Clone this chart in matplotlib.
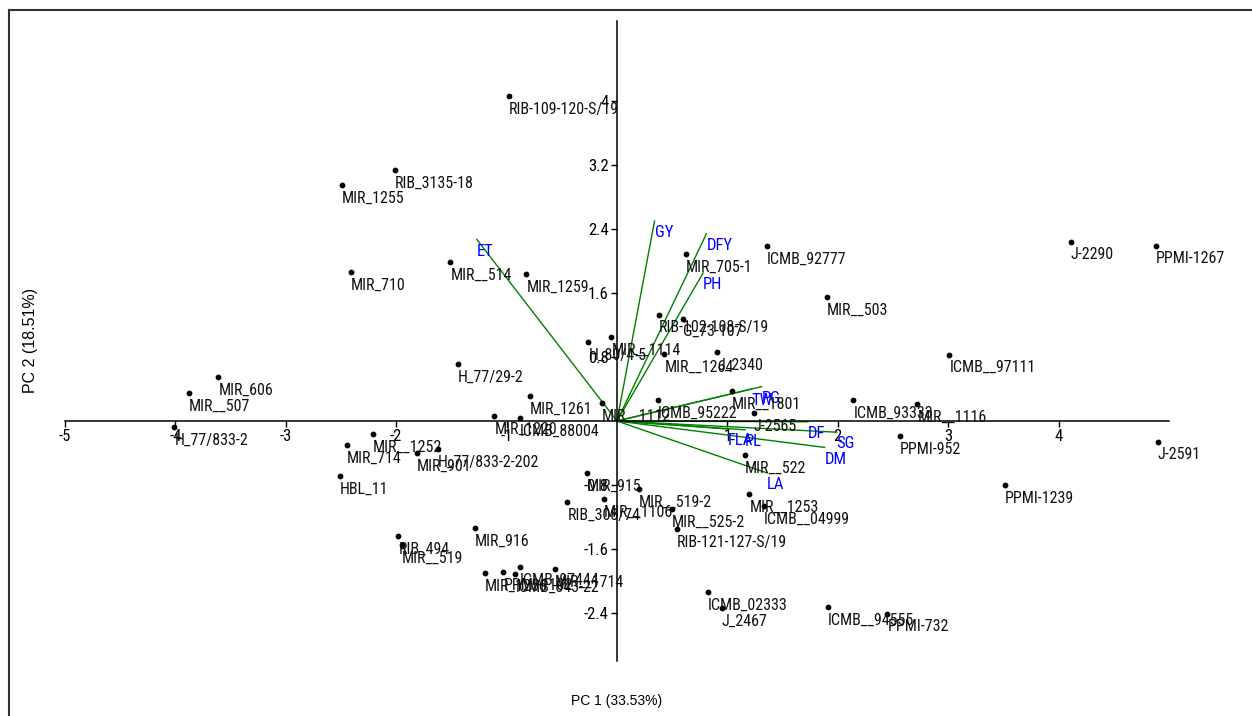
import matplotlib
matplotlib.use("Agg")
import matplotlib.pyplot as plt
from matplotlib import font_manager
from matplotlib.lines import Line2D

# PCA biplot: genotype scores (black points) and trait loadings (green vectors)

genotypes = [
    "RIB-109-120-S/19", "RIB_3135-18", "MIR_1255", "MIR_710", "MIR__514",
    "MIR_1259", "H_80/4-5", "MIR__1114", "MIR__1264", "J_2340",
    "RIB-102-108-S/19", "G_73-107", "MIR_705-1", "ICMB_92777", "MIR__503",
    "J-2290", "PPMI-1267", "ICMB__97111", "MIR__1112", "ICMB_95222",
    "MIR__1801", "J-2565", "ICMB_93333", "MIR__1116", "PPMI-952",
    "J-2591", "PPMI-1239", "MIR__522", "MIR__1253", "ICMB__04999",
    "MIR__519-2", "MIR__525-2", "RIB-121-127-S/19", "ICMB_02333", "J_2467",
    "ICMB__94555", "PPMI-732", "MIR_915", "RIB_308/74", "MIR__1106",
    "MIR_916", "MIR_1256", "PPMI-1102", "ICMB_843-22", "ICMB_97444",
    "MIR__1714", "MIR_606", "MIR__507", "H_77/833-2", "H_77/29-2",
    "MIR_1261", "MIR_1220", "ICMB_88004", "MIR__1252", "MIR_714",
    "MIR_901", "H_77/833-2-202", "HBL_11", "RIB_494", "MIR__519",
]
pc1 = [
    -0.98, -2.01, -2.49, -2.41, -1.51,
    -0.82, -0.26, -0.05, 0.43, 0.91,
    0.38, 0.60, 0.625, 1.36, 1.90,
    4.11, 4.88, 3.01, -0.14, 0.37,
    1.04, 1.24, 2.14, 2.72, 2.56,
    4.90, 3.51, 1.16, 1.20, 1.33,
    0.20, 0.50, 0.54, 0.82, 0.95,
    1.91, 2.45, -0.27, -0.45, -0.12,
    -1.29, -1.20, -1.03, -0.92, -0.88,
    -0.56, -3.61, -3.88, -4.01, -1.44,
    -0.79, -1.11, -0.88, -2.21, -2.45,
    -1.81, -1.62, -2.51, -1.98, -1.95,
]
pc2 = [
    4.06, 3.14, 2.95, 1.86, 1.99,
    1.84, 0.99, 1.05, 0.84, 0.86,
    1.33, 1.28, 2.09, 2.19, 1.55,
    2.24, 2.19, 0.83, 0.22, 0.26,
    0.375, 0.10, 0.26, 0.21, -0.19,
    -0.26, -0.80, -0.43, -0.91, -1.06,
    -0.85, -1.10, -1.35, -2.14, -2.34,
    -2.33, -2.41, -0.65, -1.01, -0.975,
    -1.34, -1.90, -1.89, -1.91, -1.825,
    -1.85, 0.55, 0.35, -0.075, 0.71,
    0.31, 0.06, 0.04, -0.16, -0.30,
    -0.40, -0.35, -0.69, -1.44, -1.55,
]

traits = ["ET", "GY", "DFY", "PH", "TW", "PG", "DF", "SG", "DM", "PL", "FLA", "LA"]
load1 = [-1.27, 0.34, 0.81, 0.78, 1.22, 1.31, 1.73, 1.99, 1.88, 1.16, 1.00, 1.36]
load2 = [2.27, 2.50, 2.34, 1.85, 0.40, 0.43, -0.01, -0.14, -0.33, -0.11, -0.10, -0.65]

xticks = [-5, -4, -3, -2, -1, 1, 2, 3, 4]
yticks = [-2.4, -1.6, -0.8, 0.8, 1.6, 2.4, 3.2, 4]
ytick_labels = ["-2.4", "-1.6", "-0.8", "0.8", "1.6", "2.4", "3.2", "4"]

# prefer a condensed face; otherwise a slightly smaller regular one
installed = {f.name for f in font_manager.fontManager.ttflist}
label_font, label_size = "Liberation Sans", 10
for cand in ("Liberation Sans Narrow", "Arial Narrow", "Roboto Condensed", "Open Sans Condensed"):
    if cand in installed:
        label_font, label_size = cand, 11.5
        break
plt.rcParams["font.family"] = [label_font, "DejaVu Sans"]

fig = plt.figure(figsize=(12.52, 7.16), dpi=100)
ax = fig.add_axes([65 / 1252, 1 - 661 / 716, 1104 / 1252, 640 / 716])
ax.set_xlim(-5, 5)
ax.set_ylim(-3, 5)

# axes cross at the origin
for side in ("top", "right"):
    ax.spines[side].set_visible(False)
ax.spines["left"].set_position(("data", 0))
ax.spines["bottom"].set_position(("data", 0))
ax.spines["left"].set_linewidth(1.1)
ax.spines["bottom"].set_linewidth(1.1)

ax.set_xticks(xticks)
ax.set_xticklabels([str(t) for t in xticks])
ax.set_yticks(yticks)
ax.set_yticklabels(ytick_labels)
ax.tick_params(axis="both", direction="out", length=4, width=1,
               labelsize=label_size + 0.5, pad=2)

# trait loadings
for name, lx, ly in zip(traits, load1, load2):
    ax.plot([0, lx], [0, ly], color="#008000", lw=1.0, zorder=2)
    ax.annotate(name, (lx, ly), xytext=(0, -3), textcoords="offset points",
                ha="left", va="top", color="#0000ff", fontsize=label_size + 0.5, zorder=4)

# genotype scores
ax.scatter(pc1, pc2, s=10, color="black", zorder=3)
for name, gx, gy in zip(genotypes, pc1, pc2):
    ax.annotate(name, (gx, gy), xytext=(0, -4), textcoords="offset points",
                ha="left", va="top", color="#111111", fontsize=label_size, zorder=4)

fig.text(617 / 1252, 1 - 701 / 716, "PC 1 (33.53%)", ha="center", va="center",
         fontsize=10, family=["Liberation Sans", "DejaVu Sans"])
fig.text(30 / 1252, 1 - 340 / 716, "PC 2 (18.51%)", ha="center", va="center",
         rotation=90, fontsize=11.5, family=["Liberation Sans", "DejaVu Sans"])

# outer frame (left and top edges)
fig.add_artist(Line2D([9 / 1252, 9 / 1252], [0, 1 - 10 / 716], color="#333333", lw=1.5))
fig.add_artist(Line2D([9 / 1252, 1], [1 - 10 / 716, 1 - 10 / 716], color="#333333", lw=1.5))

fig.savefig("out.png", dpi=100)
